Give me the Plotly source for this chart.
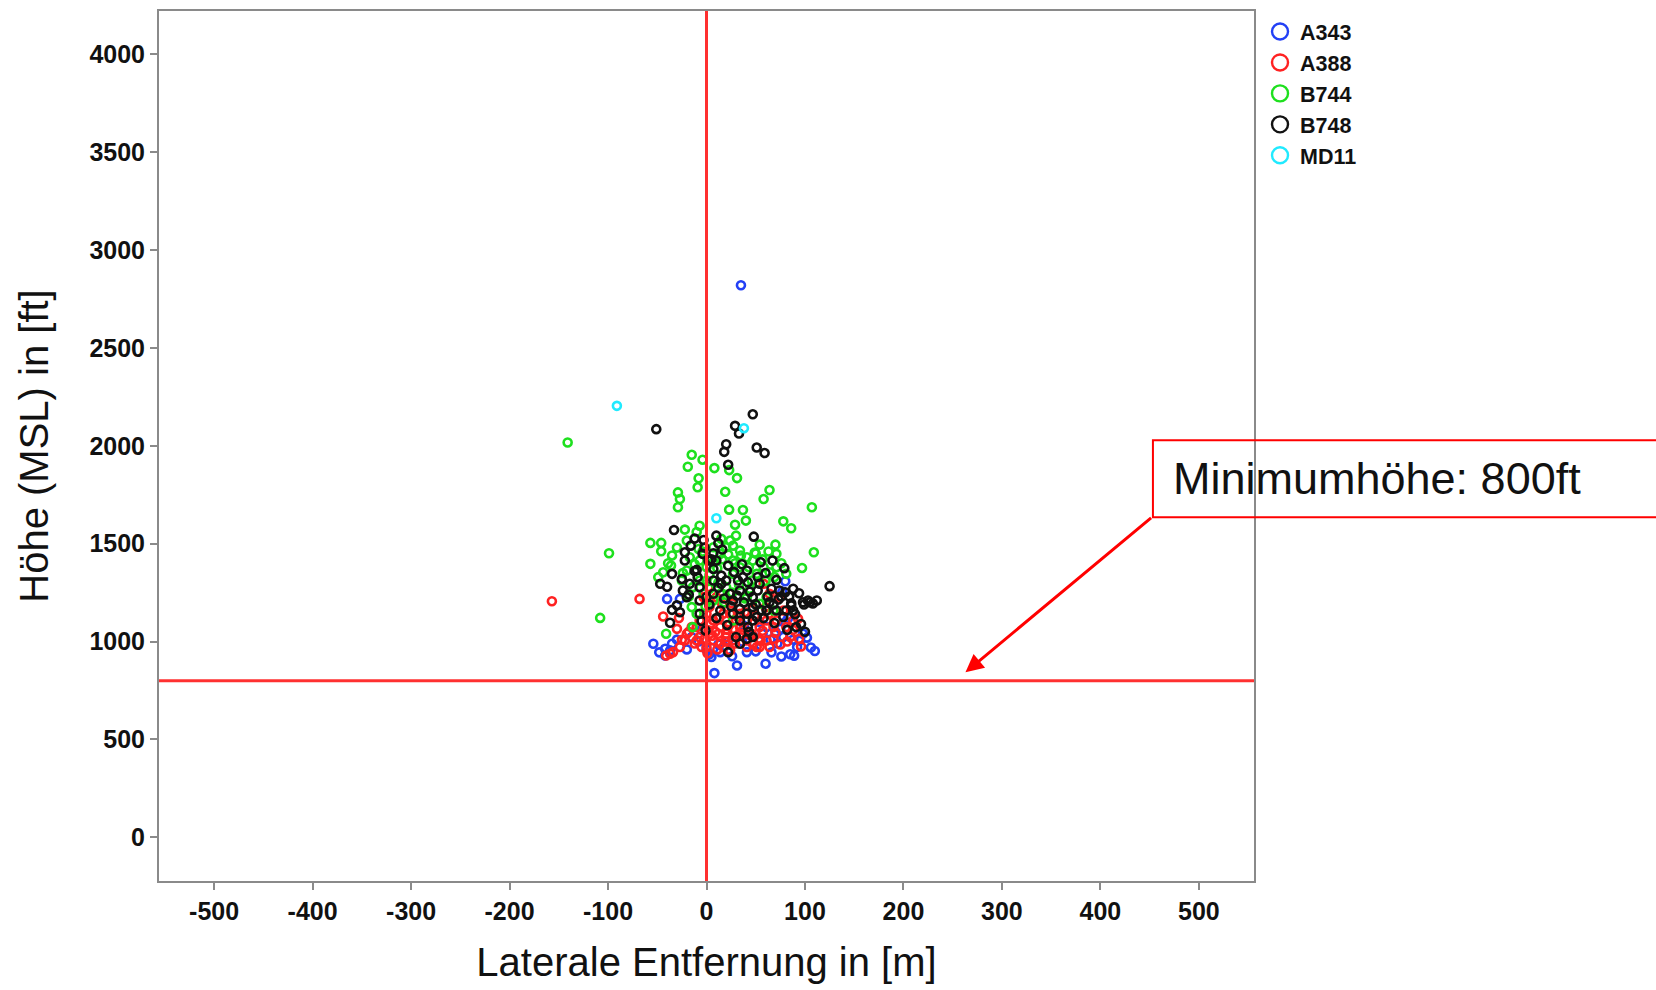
import plotly.graph_objects as go

# ---- data (lateral distance in m, height MSL in ft) ----
a343_x = [35, -54, -42, -42, -35, -40, -27, 5, 8, 31, 60, 76, 85, 89, 110, 92, 98, 78, 75, 80,
          57, 61, 54, 41, -15, 14, -37, 70, 65, 48, 22, 0, -5, 45, 83, 38, 18, 95, 77,
          -48, -30, -20, -8, 3, 12, 26, 36, 50, 66, 72, 88, 102, 106, 80]
a343_y = [2820, 989, 963, 929, 989, 1218, 1218, 921, 839, 878, 887, 924, 935, 928, 952, 972, 1040, 1023, 1065, 1308,
          1040, 1074, 1100, 946, 1023, 946, 955, 1050, 1010, 990, 1000, 960, 1060, 1030, 1120, 1080, 975, 1005, 1255,
          945, 1010, 960, 1000, 935, 985, 925, 1000, 950, 945, 990, 1010, 1020, 970, 1100]

a388_x = [-157, -68, -44, -25, -30, -37, -34, -41, -5, -10, -7, 0, 7, 14, 20, 27, 34, 41, 47, 54,
          61, 68, 64, 51, 24, 47, 93, 94, 71, 78, 81, 7, 0, 14, 20, 27, 34, -15, -20, 3,
          10, 17, 24, 34, 41, 54, 61, 68, 58, 64, 74, 88, -3, 2, 24, 12, 17, -7, 2, 41,
          46, 30, 85, -27, -22, -10, 55,
          -18, -12, -2, 4, 9, 13, 19, 23, 29, 32, 37, 44, 49, 53, 57, 63, 70, 75, 82, 88,
          -28, 1, 6, 11, 16, 21, 26, 39, 60, 96]
a388_y = [1206, 1218, 1128, 1009, 1065, 938, 946, 929, 972, 1074, 1108, 1142, 1108, 1074, 1040, 1065, 1040, 1006, 989, 972,
          1006, 1014, 972, 972, 955, 1167, 1116, 1014, 1108, 1159, 1074, 1006, 972, 989, 1023, 1006, 1074, 1074, 1040, 1176,
          1227, 1142, 1142, 1142, 1108, 1074, 1108, 1074, 1295, 1244, 1227, 1108, 1227, 1278, 1244, 1040, 972, 1023, 1057, 972,
          1040, 1108, 1023, 972, 1006, 1006, 1005,
          1050, 990, 1015, 1090, 1050, 1120, 1000, 1085, 990, 1125, 1060, 1035, 1130, 1015, 1055, 1140, 1045, 985, 1000, 1060,
          1120, 940, 1030, 960, 1190, 1060, 1195, 1150, 1175, 975]

b744_x = [-141, -99, -108, -15, -4, -19, 8, -8, -9, -29, -27, -29, -7, -22, 23, 31, 19, 64, 58, 23,
          37, 40, 29, 78, 86, 107, 109, 97, 70, 54, 49, -57, -46, -46, -57, -39, -41, -44, -17, -7,
          0, 7, 14, 20, 27, 34, 41, 27, 34, 47, 58, 64, 71, 51, -7, -14, -3, 7, 14, 20,
          27, 0, -20, -25, -15, -10, -14, 27, 41, 54, 61, 68, 46, 7, -20, -8, -36, -49, 30, 24,
          71, 81,
          -35, -30, -24, -12, -4, 3, 11, 16, 22, 29, 35, 43, 50, 57, 63, 69, 76, 3, 12, 18,
          26, 33, 39, -1, -18, 44, 53, 60, 15, -10]
b744_y = [2017, 1451, 1121, 1954, 1929, 1893, 1886, 1834, 1788, 1762, 1728, 1686, 1592, 1572, 1876, 1835, 1765, 1774, 1728, 1674,
          1672, 1618, 1597, 1614, 1579, 1686, 1456, 1376, 1495, 1495, 1455, 1504, 1504, 1461, 1397, 1400, 1040, 1354, 1431, 1414,
          1380, 1405, 1448, 1482, 1490, 1465, 1431, 1414, 1380, 1414, 1380, 1354, 1380, 1346, 1312, 1278, 1244, 1210, 1244, 1278,
          1346, 1312, 1363, 1312, 1176, 1142, 1074, 1108, 1227, 1193, 1227, 1159, 1312, 1482, 1516, 1473, 1388, 1329, 1541, 1516,
          1448, 1346,
          1440, 1480, 1350, 1395, 1460, 1340, 1375, 1420, 1445, 1400, 1440, 1380, 1450, 1420, 1460, 1330, 1400, 1270, 1300, 1200,
          1250, 1290, 1220, 1180, 1230, 1270, 1300, 1310, 1525, 1560]

b748_x = [-51, 47, 29, 33, 20, 18, 51, 59, 22, -33, 48, 10, -12, -3, 12, -22, -22, -16, 7, -4,
          22, 55, 67, 79, 125, 94, 99, 105, 86, 88, -35, -47, -24, -35, -27, -37, -10, -9, -7, 7,
          15, 15, 32, 41, 37, 42, 27, 34, 47, 52, 71, 74, 80, 81, 91, 61, 47, 42, 34, 41,
          22, -1, 14, 7, 27, -7, 0, 20, 24, 54, 64, 71, 78, 34, 41, 47, 34, 47, 30, 51,
          7, 2, 10, -17, -20, -7, 88, 98, 103,
          -30, -18, -5, 3, 12, 18, 25, 31, 38, 44, 50, 56, 62, 68, 73, 84, 90, 96, 108, 112,
          -40, -25, -12, 5, 16, 28, 36, 52, 60, 66, 76, 86, 100, 10, 21, 43, 58, 69, 82, -2]
b748_y = [2085, 2161, 2102, 2063, 2008, 1969, 1991, 1963, 1903, 1570, 1536, 1541, 1526, 1519, 1502, 1456, 1414, 1490, 1451, 1448,
          1388, 1405, 1414, 1375, 1283, 1247, 1189, 1201, 1196, 1159, 1346, 1295, 1261, 1162, 1150, 1096, 1366, 1329, 1210, 1312,
          1337, 1295, 1312, 1363, 1329, 1303, 1210, 1167, 1227, 1261, 1315, 1261, 1252, 1159, 1074, 1159, 1108, 1074, 989, 1014,
          946, 1057, 1159, 1244, 1142, 1278, 1227, 1312, 1244, 1295, 1201, 1159, 1125, 1261, 1142, 1176, 1108, 1023, 1023, 1125,
          1371, 1414, 1414, 1295, 1227, 1142, 1270, 1201, 1210,
          1185, 1240, 1105, 1190, 1275, 1220, 1180, 1235, 1200, 1255, 1190, 1160, 1230, 1190, 1215, 1230, 1140, 1090, 1195, 1210,
          1280, 1320, 1360, 1420, 1470, 1355, 1395, 1330, 1350, 1270, 1230, 1185, 1050, 1120, 1085, 1050, 1120, 1095, 1060, 1480]

md11_x = [-91, 38, 10]
md11_y = [2204, 2090, 1630]

series = [
    ("A343", a343_x, a343_y, "#2340f5"),
    ("A388", a388_x, a388_y, "#ff2222"),
    ("B744", b744_x, b744_y, "#1ee01e"),
    ("B748", b748_x, b748_y, "#111111"),
    ("MD11", md11_x, md11_y, "#20eaff"),
]

min_height = 800
x_ticks = list(range(-500, 501, 100))
y_ticks = list(range(0, 4001, 500))
x_range = [-556, 556]
y_range = [-223, 4221]

fig = go.Figure()
for name, xs, ys, col in series:
    fig.add_trace(go.Scatter(
        x=xs, y=ys, mode="markers", name=name, legendgroup=name, showlegend=False,
        marker=dict(symbol="circle-open", size=8, color=col, line=dict(width=2.6, color=col)),
    ))
for name, xs, ys, col in series:
    fig.add_trace(go.Scatter(
        x=[None], y=[None], mode="markers", name=name, legendgroup=name, showlegend=True,
        marker=dict(symbol="circle-open", size=20, color=col, line=dict(width=2.4, color=col)),
    ))

fig.add_shape(type="line", xref="x", yref="paper", x0=0, x1=0, y0=0, y1=1,
              line=dict(color="#ff3030", width=3), layer="above")
fig.add_shape(type="line", xref="paper", yref="y", x0=0, x1=1, y0=min_height, y1=min_height,
              line=dict(color="#ff3030", width=3), layer="above")

# callout box
fig.add_shape(type="rect", xref="paper", yref="paper", x0=0.9077, x1=1.6, y0=0.418, y1=0.5067,
              line=dict(color="#ff0000", width=2), fillcolor="rgba(0,0,0,0)", layer="above")
fig.add_annotation(xref="paper", yref="paper", x=0.924, y=0.4623, xanchor="left", yanchor="middle",
                   text="Minimumhöhe: 800ft", showarrow=False,
                   font=dict(family="Liberation Sans, Arial, sans-serif", size=45, color="#111111"))
fig.add_annotation(xref="x", yref="y", x=263, y=843, axref="x", ayref="y", ax=453, ay=1638,
                   text="", showarrow=True, arrowhead=2, arrowsize=1.2, arrowwidth=3, arrowcolor="#ff0000")

axis_common = dict(
    showgrid=False, zeroline=False, showline=True, mirror=True, linecolor="#8a8a8a", linewidth=2,
    ticks="outside", ticklen=7, tickwidth=2, tickcolor="#8a8a8a",
    tickfont=dict(family="Liberation Sans, Arial, sans-serif", size=25, color="#111111", weight="bold"),
)
title_font = dict(family="Liberation Sans, Arial, sans-serif", size=40, color="#111111")

fig.update_xaxes(range=x_range, tickmode="array", tickvals=x_ticks, ticktext=[str(v) for v in x_ticks],
                 title=dict(text="Laterale Entfernung in [m]", font=title_font, standoff=24), **axis_common)
fig.update_yaxes(range=y_range, tickmode="array", tickvals=y_ticks, ticktext=[str(v) for v in y_ticks],
                 title=dict(text="Höhe (MSL) in [ft]", font=title_font, standoff=28), **axis_common)

fig.update_layout(
    width=1656, height=990,
    margin=dict(l=159, r=402, t=9, b=109),
    paper_bgcolor="white", plot_bgcolor="white",
    legend=dict(x=1.0055, y=1.0, xanchor="left", yanchor="top", bgcolor="rgba(0,0,0,0)",
                font=dict(family="Liberation Sans, Arial, sans-serif", size=21.5, color="#111111", weight="bold"),
                tracegroupgap=0, itemsizing="trace"),
    showlegend=True,
)

fig.write_html("out.html", post_script="document.body.style.margin='0px';",
               config={"displayModeBar": False})
